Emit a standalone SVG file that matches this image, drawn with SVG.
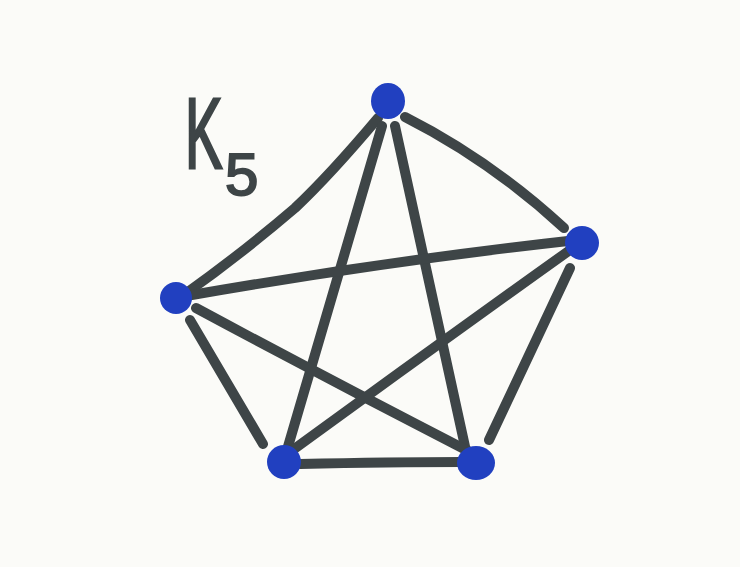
<svg xmlns="http://www.w3.org/2000/svg" width="740" height="567" viewBox="0 0 740 567">
<style>
.e{fill:none;stroke:#3e4547;stroke-width:10;stroke-linecap:round;stroke-linejoin:round}
.n{fill:#2140c0}
.t{fill:#3e4547;stroke:#3e4547;font-family:"Liberation Sans",Arial,sans-serif}
</style>
<rect width="740" height="567" fill="#fbfbf8"/>
<g id="label">
<text class="t" x="0" y="0" font-size="100" stroke-width="3" transform="translate(185,168) scale(0.56,1)">K</text>
<text class="t" x="225" y="195" font-size="60" stroke-width="2">5</text>
</g>
<g id="edges">
<path class="e" d="M378,118 Q330,175 295,208 Q240,255 185,294"/>
<path class="e" d="M405,117 Q490,160 564,228"/>
<path class="e" d="M382,126 L287,450"/>
<path class="e" d="M395,126 L466,451"/>
<path class="e" d="M186,296 Q380,262 568,241"/>
<path class="e" d="M196,308 Q330,380 470,452"/>
<path class="e" d="M190,320 L263,444"/>
<path class="e" d="M570,250 Q430,350 290,452"/>
<path class="e" d="M570,268 L489,440"/>
<path class="e" d="M300,464 Q390,462 462,462"/>
</g>
<g id="n1"><ellipse class="n" cx="388" cy="101" rx="17" ry="18"/></g>
<g id="n2"><ellipse class="n" cx="582" cy="243" rx="17" ry="17"/></g>
<g id="n3"><ellipse class="n" cx="176" cy="298" rx="16" ry="16"/></g>
<g id="n4"><ellipse class="n" cx="284" cy="462" rx="17" ry="17"/></g>
<g id="n5"><ellipse class="n" cx="476" cy="463" rx="19" ry="17"/></g>
</svg>
